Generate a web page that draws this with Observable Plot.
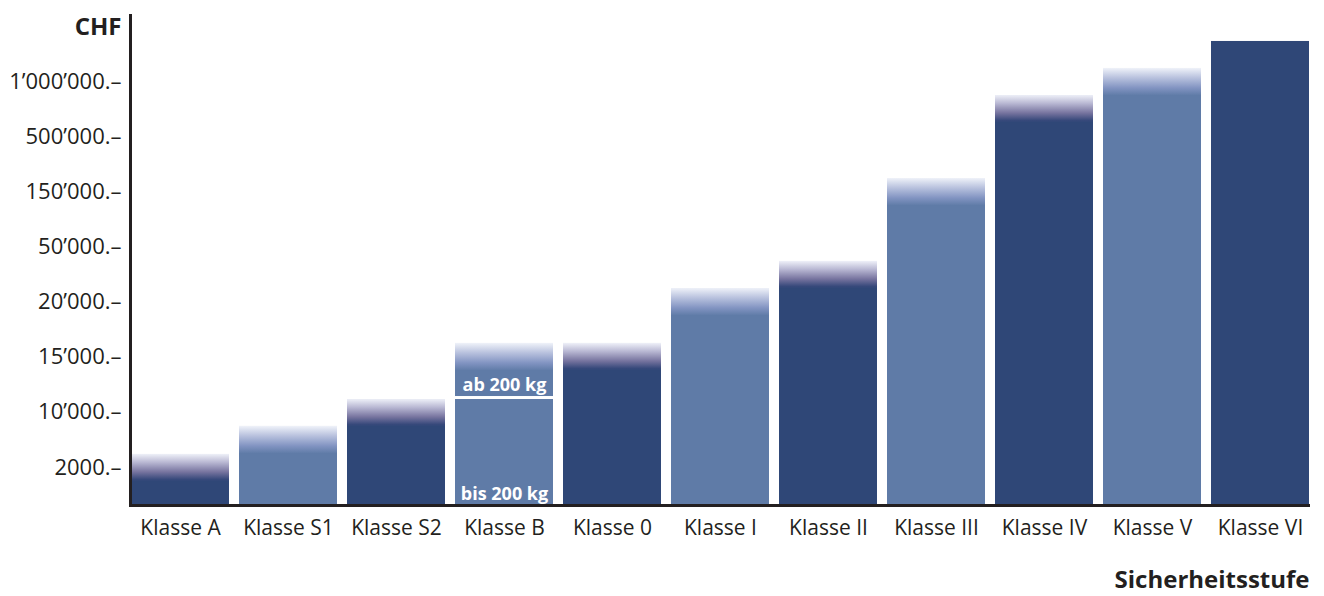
<!DOCTYPE html>
<html>
<head>
<meta charset="utf-8">
<script src="https://cdn.jsdelivr.net/npm/d3@7"></script>
<script src="https://cdn.jsdelivr.net/npm/@observablehq/plot@0.6"></script>
<style>
  html, body { margin: 0; padding: 0; background: #fff; }
  #chart svg { display: block; }
</style>
</head>
<body>
<div id="chart"></div>
<script>
// Categories (security classes)
const classes = ["Klasse A", "Klasse S1", "Klasse S2", "Klasse B", "Klasse 0", "Klasse I", "Klasse II", "Klasse III", "Klasse IV", "Klasse V", "Klasse VI"];
// Bar heights, in units of the (equally spaced) CHF tick levels: level 1 = 2000.–, level 8 = 1'000'000.–
const tops = [1.236, 1.744, 2.233, 3.249, 3.249, 4.246, 4.736, 6.241, 7.746, 8.236, 8.726];
// Whether the top of the bar fades out (open upper end)
const faded = [true, true, true, true, true, true, true, true, true, true, false];
// Bar shade
const shades = ["dark", "light", "dark", "light", "dark", "light", "dark", "light", "dark", "light", "dark"];
// Klasse B split: "bis 200 kg" up to this level, "ab 200 kg" above
const splitClass = "Klasse B";
const splitLevel = 2.233;
const splitLabels = ["bis 200 kg", "ab 200 kg"];
// Y axis ticks
const tickLevels = [1, 2, 3, 4, 5, 6, 7, 8];
const tickLabels = ["2000.–", "10’000.–", "15’000.–", "20’000.–", "50’000.–", "150’000.–", "500’000.–", "1’000’000.–"];
const yLabel = "CHF";
const xLabel = "Sicherheitsstufe";

const baseLevel = 0.311, topLevel = 9.197, fade = 0.5;
const dark = "#2f4777", light = "#5f7ba7", ink = "#231f20";

const bars = classes.map((c, i) => ({cls: c, top: tops[i], faded: faded[i], shade: shades[i]}));
const solidLower = bars.map(d => d.cls === splitClass ? {...d, y1: baseLevel, y2: splitLevel} : {...d, y1: baseLevel, y2: d.top});
const solidUpper = bars.filter(d => d.cls === splitClass).map(d => ({...d, y1: splitLevel, y2: d.top}));
const fades = bars.filter(d => d.faded).map(d => ({...d, y1: d.top - fade, y2: d.top}));

function defs() {
  const ns = "http://www.w3.org/2000/svg";
  const g = document.createElementNS(ns, "defs");
  const grads = {
    "fade-dark": [[0, "#eef0f8"], [0.3, "#b9b8d3"], [0.65, "#77749f"], [0.92, "#37497b"], [1, dark]],
    "fade-light": [[0, "#eff2f9"], [0.35, "#b9c2de"], [0.72, "#8294c2"], [1, light]]
  };
  for (const [id, stops] of Object.entries(grads)) {
    const lg = document.createElementNS(ns, "linearGradient");
    lg.setAttribute("id", id);
    lg.setAttribute("x1", "0"); lg.setAttribute("y1", "0");
    lg.setAttribute("x2", "0"); lg.setAttribute("y2", "1");
    for (const [o, c] of stops) {
      const s = document.createElementNS(ns, "stop");
      s.setAttribute("offset", o);
      s.setAttribute("stop-color", c);
      lg.appendChild(s);
    }
    g.appendChild(lg);
  }
  return g;
}

const chart = Plot.plot({
  width: 1324,
  height: 596,
  marginLeft: 130,
  marginRight: 14,
  marginTop: 15,
  marginBottom: 91,
  style: {fontFamily: "'Open Sans', sans-serif", color: ink, background: "#fff"},
  x: {domain: classes, paddingInner: 0.094, paddingOuter: 0, label: null},
  y: {domain: [baseLevel, topLevel], label: null},
  marks: [
    defs,
    Plot.barY(solidLower, {x: "cls", y1: "y1", y2: "y2", fill: d => d.shade === "dark" ? dark : light}),
    Plot.barY(solidUpper, {x: "cls", y1: "y1", y2: "y2", fill: d => d.shade === "dark" ? dark : light, insetBottom: 3}),
    Plot.barY(fades.filter(d => d.shade === "dark"), {x: "cls", y1: "y1", y2: "y2", fill: "url(#fade-dark)"}),
    Plot.barY(fades.filter(d => d.shade === "light"), {x: "cls", y1: "y1", y2: "y2", fill: "url(#fade-light)"}),
    Plot.text(solidLower.filter(d => d.cls === splitClass), {x: "cls", y: "y1", text: () => splitLabels[0], fill: "white", fontWeight: "bold", fontSize: 18, lineAnchor: "bottom", dy: -6}),
    Plot.text(solidUpper, {x: "cls", y: "y1", text: () => splitLabels[1], fill: "white", fontWeight: "bold", fontSize: 18, lineAnchor: "bottom", dy: -9}),
    Plot.axisY({ticks: tickLevels, tickFormat: v => tickLabels[tickLevels.indexOf(v)], tickSize: 0, tickPadding: 9, fontSize: 22, label: null}),
    Plot.axisX({tickSize: 0, tickPadding: 15, fontSize: 21, label: null}),
    Plot.ruleY([baseLevel], {stroke: ink, strokeWidth: 3}),
    Plot.frame({anchor: "left", stroke: ink, strokeWidth: 3}),
    Plot.text([yLabel], {frameAnchor: "top-left", dx: -9, dy: 12, textAnchor: "end", lineAnchor: "middle", fontWeight: "bold", fontSize: 24}),
    Plot.text([xLabel], {frameAnchor: "bottom-right", dx: -1, dy: 75, textAnchor: "end", lineAnchor: "middle", fontWeight: "bold", fontSize: 24})
  ]
});
document.getElementById("chart").appendChild(chart);
</script>
</body>
</html>
